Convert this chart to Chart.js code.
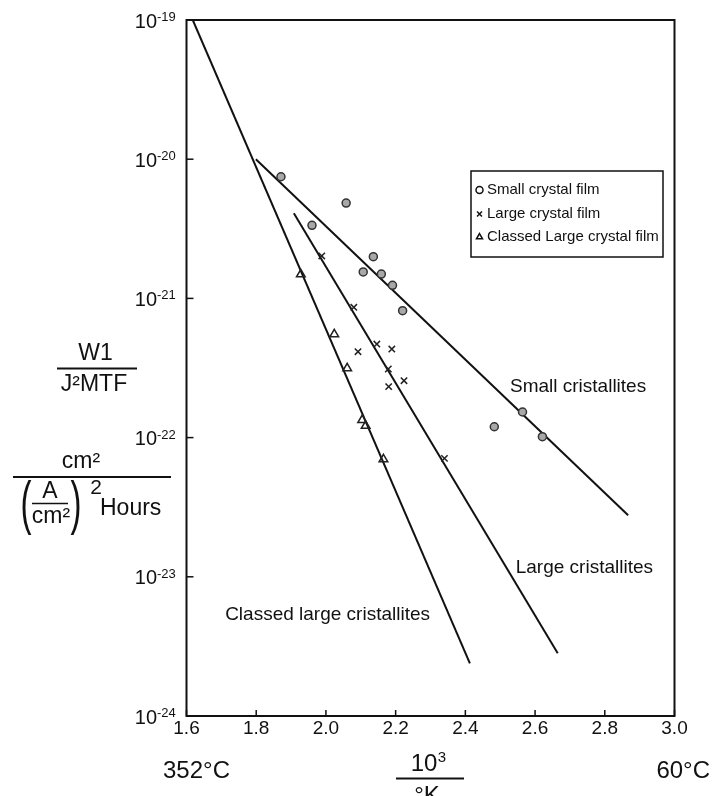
<!DOCTYPE html>
<html>
<head>
<meta charset="utf-8">
<script src="https://cdn.jsdelivr.net/npm/chart.js@4.4.0/dist/chart.umd.min.js"></script>
<style>
  html, body { margin: 0; padding: 0; background: #fff; }
  #wrap { width: 712px; height: 796px; position: relative; }
</style>
</head>
<body>
<div id="wrap"><canvas id="arrhenius"></canvas></div>
<script>
// --- data (x = 10^3/°K, y = W1 per unit) ---
const smallX = [1.871, 2.058, 1.960, 2.136, 2.107, 2.159, 2.191, 2.220, 2.483, 2.564, 2.621];
const smallY = [-20.126, -20.315, -20.475, -20.700, -20.810, -20.825, -20.906, -21.088, -21.922, -21.816, -21.993];

const largeX = [1.988, 2.080, 2.092, 2.146, 2.189, 2.179, 2.224, 2.180, 2.340];
const largeY = [-20.695, -21.064, -21.383, -21.328, -21.364, -21.507, -21.591, -21.634, -22.149];

const classedX = [1.928, 2.024, 2.061, 2.104, 2.114, 2.165];
const classedY = [-20.827, -21.258, -21.502, -21.874, -21.915, -22.156];

// fitted lines: [x, log10 y] end points
const smallFitX = [1.799, 2.867];
const smallFitY = [-20.0, -22.558];
const largeFitX = [1.908, 2.665];
const largeFitY = [-20.389, -23.55];
const classedFitX = [1.618, 2.413];
const classedFitY = [-19.0, -23.622];

const xTicks = [1.6, 1.8, 2.0, 2.2, 2.4, 2.6, 2.8, 3.0];
const yExponents = [-19, -20, -21, -22, -23, -24];

const legendLabels = ['Small crystal film', 'Large crystal film', 'Classed Large crystal film'];

const FONT = "'Liberation Sans', Arial, sans-serif";

const toPoints = (xs, ys) => xs.map((x, i) => ({ x: x, y: Math.pow(10, ys[i]) }));

// === custom drawing: frame, ticks, labels, legend ===
const decorations = {
    id: 'decorations',
    afterDraw(chart) {
        const ctx = chart.ctx;
        const area = chart.chartArea;
        const xs = chart.scales.x;
        const ys = chart.scales.y;
        ctx.save();
        ctx.strokeStyle = '#111';
        ctx.fillStyle = '#111';

        // frame
        ctx.lineWidth = 2;
        ctx.strokeRect(area.left, area.top, area.right - area.left, area.bottom - area.top);

        // x ticks (inside) and labels
        ctx.lineWidth = 1.5;
        ctx.font = '19px ' + FONT;
        ctx.textAlign = 'center';
        ctx.textBaseline = 'middle';
        xTicks.forEach(v => {
            const px = xs.getPixelForValue(v);
            ctx.beginPath();
            ctx.moveTo(px, area.bottom);
            ctx.lineTo(px, area.bottom - 6);
            ctx.stroke();
            ctx.fillText(v.toFixed(1), px, area.bottom + 13);
        });

        // y ticks (inside) and 10^n labels
        yExponents.forEach(e => {
            const py = ys.getPixelForValue(Math.pow(10, e));
            ctx.beginPath();
            ctx.moveTo(area.left, py);
            ctx.lineTo(area.left + 7, py);
            ctx.stroke();
            ctx.font = '20px ' + FONT;
            ctx.textAlign = 'right';
            ctx.textBaseline = 'middle';
            ctx.fillText('10', 157, py + 2);
            ctx.font = '13px ' + FONT;
            ctx.textAlign = 'left';
            ctx.textBaseline = 'top';
            ctx.fillText(String(e), 157, py - 9);
        });

        // bottom labels
        ctx.font = '24px ' + FONT;
        ctx.textBaseline = 'middle';
        ctx.textAlign = 'left';
        ctx.fillText('352°C', 163, 771);
        ctx.textAlign = 'right';
        ctx.fillText('60°C', 710, 771);
        ctx.textAlign = 'center';
        ctx.fillText('10', 424, 764);
        ctx.font = '15px ' + FONT;
        ctx.fillText('3', 442, 758);
        ctx.lineWidth = 2;
        ctx.beginPath();
        ctx.moveTo(396, 778.5);
        ctx.lineTo(464, 778.5);
        ctx.stroke();
        ctx.font = '24px ' + FONT;
        ctx.textBaseline = 'top';
        ctx.fillText('°K', 427, 784);

        // y axis label
        ctx.textBaseline = 'middle';
        ctx.textAlign = 'center';
        ctx.font = '23px ' + FONT;
        ctx.fillText('W1', 95.5, 354);
        ctx.beginPath();
        ctx.moveTo(57, 368.5);
        ctx.lineTo(137, 368.5);
        ctx.stroke();
        ctx.fillText('J²MTF', 94, 385);
        ctx.fillText('cm²', 81, 462);
        ctx.beginPath();
        ctx.moveTo(13, 477);
        ctx.lineTo(171, 477);
        ctx.stroke();
        // tall thin parentheses
        ctx.save();
        ctx.scale(0.55, 1);
        ctx.font = '60px ' + FONT;
        ctx.fillText('(', 26 / 0.55, 506);
        ctx.fillText(')', 76 / 0.55, 506);
        ctx.restore();
        ctx.font = '23px ' + FONT;
        ctx.fillText('A', 50, 492);
        ctx.lineWidth = 1.5;
        ctx.beginPath();
        ctx.moveTo(32, 503.5);
        ctx.lineTo(68, 503.5);
        ctx.stroke();
        ctx.fillText('cm²', 51, 517);
        ctx.font = '21px ' + FONT;
        ctx.fillText('2', 96, 488);
        ctx.font = '23px ' + FONT;
        ctx.textAlign = 'left';
        ctx.fillText('Hours', 100, 509);

        // line annotations
        ctx.font = '19px ' + FONT;
        ctx.textAlign = 'left';
        ctx.fillText('Small cristallites', 510, 387);
        ctx.textAlign = 'right';
        ctx.fillText('Large cristallites', 653, 568);
        ctx.fillText('Classed large cristallites', 430, 615);

        // legend box
        const lx = 471, ly = 171, lw = 192, lh = 86;
        ctx.fillStyle = '#fff';
        ctx.fillRect(lx, ly, lw, lh);
        ctx.strokeStyle = '#111';
        ctx.lineWidth = 1.5;
        ctx.strokeRect(lx, ly, lw, lh);
        ctx.font = '15px ' + FONT;
        ctx.textAlign = 'left';
        ctx.textBaseline = 'middle';
        const rows = [190, 214, 237];
        chart.data.datasets.slice(0, 3).forEach((ds, i) => {
            const style = {
                pointStyle: ds.pointStyle,
                radius: 3.5,
                borderWidth: 1.5,
                rotation: 0
            };
            ctx.fillStyle = i === 0 ? '#fff' : 'rgba(0,0,0,0)';
            ctx.strokeStyle = '#111';
            ctx.lineWidth = 1.5;
            Chart.helpers.drawPoint(ctx, style, 479.5, rows[i]);
            ctx.fillStyle = '#111';
            ctx.fillText(legendLabels[i], 487, rows[i]);
        });
        ctx.restore();
    }
};

const ctx = document.getElementById('arrhenius').getContext('2d');

const fitLine = (xs, ys) => ({
    data: toPoints(xs, ys),
    showLine: true,
    borderColor: '#111',
    borderWidth: 2,
    pointRadius: 0,
    fill: false
});

const chart = new Chart(ctx, {
    type: 'scatter',
    data: {
        datasets: [
            {
                label: legendLabels[0],
                data: toPoints(smallX, smallY),
                pointStyle: 'circle',
                pointRadius: 4,
                backgroundColor: '#a8a8a8',
                borderColor: '#333',
                borderWidth: 1.5
            },
            {
                label: legendLabels[1],
                data: toPoints(largeX, largeY),
                pointStyle: 'crossRot',
                pointRadius: 4.5,
                borderColor: '#222',
                borderWidth: 1.5
            },
            {
                label: legendLabels[2],
                data: toPoints(classedX, classedY),
                pointStyle: 'triangle',
                pointRadius: 5,
                backgroundColor: 'rgba(255,255,255,0)',
                borderColor: '#222',
                borderWidth: 1.5
            },
            fitLine(smallFitX, smallFitY),
            fitLine(largeFitX, largeFitY),
            fitLine(classedFitX, classedFitY)
        ]
    },
    options: {
        responsive: true,
        maintainAspectRatio: false,
        animation: false,
        layout: {
            padding: { left: 186.5, top: 20, right: 37.5, bottom: 80 }
        },
        plugins: {
            legend: { display: false },
            tooltip: { enabled: false }
        },
        scales: {
            x: {
                type: 'linear',
                min: 1.6,
                max: 3.0,
                display: false
            },
            y: {
                type: 'logarithmic',
                min: 1e-24,
                max: 1e-19,
                display: false
            }
        }
    },
    plugins: [decorations]
});
</script>
</body>
</html>
